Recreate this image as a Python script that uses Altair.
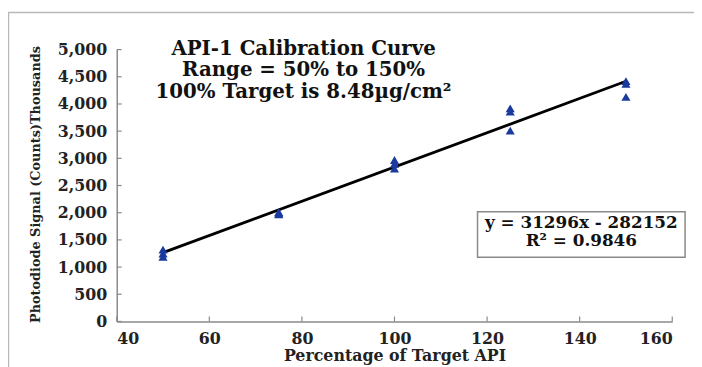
import altair as alt
import pandas as pd

# Data (signal in thousands of counts)
pct_target = [50, 50, 50, 75, 75, 75, 100, 100, 100, 125, 125, 125, 150, 150, 150]
signal_k = [1320, 1250, 1190, 2010, 1990, 1970, 2970, 2900, 2810, 3920, 3860, 3510, 4420, 4370, 4130]
x_ticks = [40, 60, 80, 100, 120, 140, 160]
y_ticks = [0, 500, 1000, 1500, 2000, 2500, 3000, 3500, 4000, 4500, 5000]
title_text = "API-1 Calibration Curve\nRange = 50% to 150%\n100% Target is 8.48\u00b5g/cm\u00b2"
eq_lines = ["y = 31296x - 282152", "R\u00b2 = 0.9846"]

df = pd.DataFrame({"x": pct_target, "y": signal_k})
FONT = "DejaVu Serif"
W, H = 562, 275
AX = "#8a8a8a"

xscale = alt.Scale(domain=[40, 160], nice=False, zero=False)
yscale = alt.Scale(domain=[0, 5000], nice=False)

xaxis = alt.Axis(values=x_ticks, title="Percentage of Target API", grid=False, ticks=False,
                 domainColor=AX, domainWidth=1.5, labelFont=FONT, labelFontWeight="bold",
                 labelFontSize=16, labelColor="#222", labelPadding=9, labelOverlap=False,
                 titleFont=FONT, titleFontWeight="bold", titleFontSize=16, titleColor="#222",
                 titlePadding=2)
yaxis = alt.Axis(values=y_ticks, format=",d", title="Photodiode Signal (Counts)Thousands",
                 grid=False, ticks=False, domainColor=AX, domainWidth=1.5,
                 labelFont=FONT, labelFontWeight="bold", labelFontSize=16, labelColor="#222",
                 labelPadding=10, labelOverlap=False, titleFont=FONT, titleFontWeight="bold",
                 titleFontSize=13, titleColor="#222", titleX=-75, titleY=136)

base = alt.Chart(df)

border = alt.Chart(pd.DataFrame({"a": [0]})).mark_rect(
    fill=None, stroke="#b8b8b8", strokeWidth=1.5
).encode(x=alt.value(-109.5), x2=alt.value(600), y=alt.value(-37.5), y2=alt.value(340))

points = base.mark_point(shape="triangle-up", filled=True, size=85, color="#1a3a9e",
                         opacity=1).encode(
    x=alt.X("x:Q", scale=xscale, axis=xaxis),
    y=alt.Y("y:Q", scale=yscale, axis=yaxis),
)

trend = base.transform_regression("x", "y", extent=[50, 150]).mark_line(
    color="black", strokeWidth=2.8
).encode(x=alt.X("x:Q", scale=xscale, axis=xaxis), y=alt.Y("y:Q", scale=yscale, axis=yaxis))

xt = alt.Chart(pd.DataFrame({"x": x_ticks})).mark_rule(color=AX, strokeWidth=1.2).encode(
    x=alt.X("x:Q", scale=xscale, axis=xaxis), y=alt.value(H), y2=alt.value(H - 5))
yt = alt.Chart(pd.DataFrame({"y": y_ticks})).mark_rule(color=AX, strokeWidth=1.2).encode(
    y=alt.Y("y:Q", scale=yscale, axis=yaxis), x=alt.value(0), x2=alt.value(5))

title = alt.Chart(pd.DataFrame({"a": [0]})).mark_text(
    text=title_text, lineBreak="\n", lineHeight=22, font=FONT, fontWeight="bold",
    fontSize=20, color="#111", align="center", baseline="alphabetic"
).encode(x=alt.value(189), y=alt.value(5))

box = alt.Chart(pd.DataFrame({"a": [0]})).mark_rect(
    fill="white", stroke="#8a8a8a", strokeWidth=1.5
).encode(x=alt.value(365), x2=alt.value(575), y=alt.value(164), y2=alt.value(210))

eq = alt.Chart(pd.DataFrame({"a": [0]})).mark_text(
    text="\n".join(eq_lines), lineBreak="\n", lineHeight=19, font=FONT, fontWeight="bold",
    fontSize=17, color="#111", align="center", baseline="alphabetic"
).encode(x=alt.value(470), y=alt.value(180))

chart = alt.layer(border, xt, yt, trend, points, title, box, eq).properties(
    width=W, height=H, autosize="none",
    padding={"left": 110, "top": 40, "right": 22, "bottom": 44},
    background="white",
).configure_view(stroke=None)

chart.save("out.html", embed_options={"renderer": "svg", "actions": False})
